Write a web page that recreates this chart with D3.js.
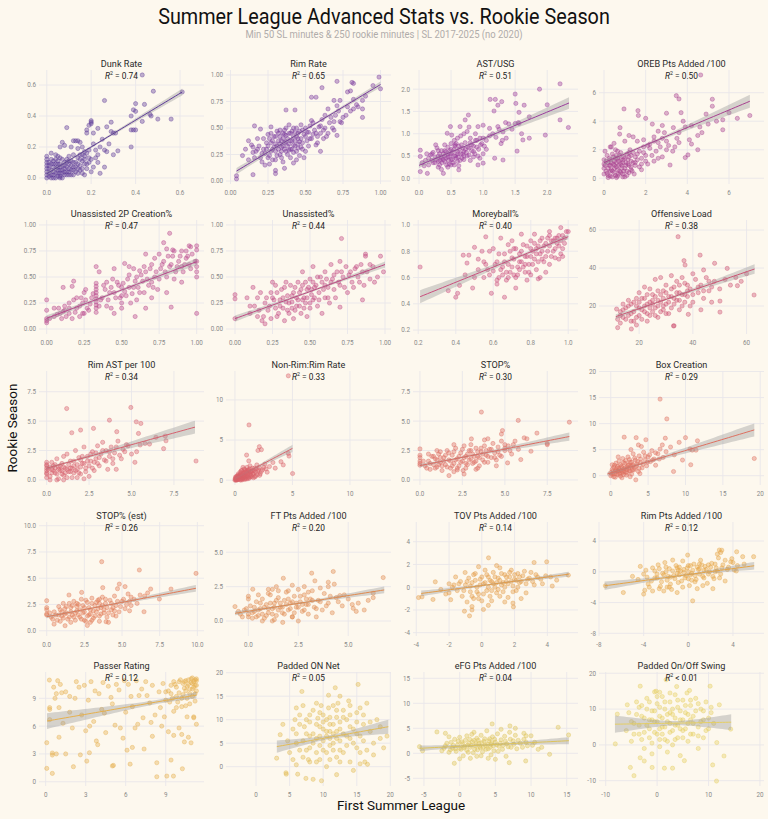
<!DOCTYPE html>
<html>
<head>
<meta charset="utf-8">
<script src="https://cdn.jsdelivr.net/npm/d3@7"></script>
<style>
  body { margin: 0; background: #fdf8ee; }
  svg text { font-family: Roboto, "Noto Sans", sans-serif; }
</style>
</head>
<body>
<svg id="chart" width="768" height="819"></svg>
<script>
// ---- data ----
const titles = ["Dunk Rate", "Rim Rate", "AST/USG", "OREB Pts Added /100",
  "Unassisted 2P Creation%", "Unassisted%", "Moreyball%", "Offensive Load",
  "Rim AST per 100", "Non-Rim:Rim Rate", "STOP%", "Box Creation",
  "STOP% (est)", "FT Pts Added /100", "TOV Pts Added /100", "Rim Pts Added /100",
  "Passer Rating", "Padded ON Net", "eFG Pts Added /100", "Padded On/Off Swing"];

const r2Labels = ["= 0.74", "= 0.65", "= 0.51", "= 0.50", "= 0.47", "= 0.44", "= 0.40", "= 0.38",
  "= 0.34", "= 0.33", "= 0.30", "= 0.29", "= 0.26", "= 0.20", "= 0.14", "= 0.12",
  "= 0.12", "= 0.05", "= 0.04", "< 0.01"];

const panelColors = ["#5e3c99", "#7a3a9e", "#9a3d9c", "#a8408f", "#b8468c", "#c04882", "#c94e7d", "#cc5372",
  "#d6606d", "#d9626a", "#dc6c62", "#de7060", "#e07a56", "#df8a4f", "#e39c48", "#e5a446",
  "#e6b04d", "#e2bc56", "#ddc35a", "#e6cf62"];

const xDomains = [[-0.035, 0.708], [-0.03, 1.07], [-0.094, 2.48], [-0.24, 7.68],
  [-0.051, 1.049], [-0.06, 1.04], [0.172, 1.052], [5.05, 66.5],
  [-0.45, 9.27], [-0.78, 13.57], [-0.41, 9.31], [-1.57, 20.5],
  [-0.51, 10.44], [-1.12, 7.14], [-4.2, 5.87], [-8.0, 6.78],
  [-0.5, 11.87], [-4.47, 20.1], [-6.54, 16.58], [-11.3, 20.78]];
const yDomains = [[-0.039, 0.697], [-0.028, 1.047], [-0.128, 2.43], [-0.4, 7.59],
  [-0.048, 1.048], [-0.048, 1.048], [0.17, 1.038], [5.26, 65.3],
  [-0.43, 9.26], [-0.6, 13.6], [-0.43, 9.26], [-1.79, 20.1],
  [-0.5, 10.35], [-1.09, 7.2], [-4.29, 5.73], [-8.35, 6.47],
  [-0.46, 11.84], [-4.12, 20.15], [-6.54, 16.26], [-11.48, 20.36]];

const xTicks = [[0, 0.2, 0.4, 0.6], [0, 0.25, 0.5, 0.75, 1], [0, 0.5, 1, 1.5, 2], [0, 2, 4, 6],
  [0, 0.25, 0.5, 0.75, 1], [0, 0.25, 0.5, 0.75, 1], [0.2, 0.4, 0.6, 0.8, 1], [20, 40, 60],
  [0, 2.5, 5, 7.5], [0, 5, 10], [0, 2.5, 5, 7.5], [0, 5, 10, 15, 20],
  [0, 2.5, 5, 7.5, 10], [0, 2.5, 5], [-4, -2, 0, 2, 4], [-8, -4, 0, 4],
  [0, 3, 6, 9], [0, 5, 10, 15, 20], [-5, 0, 5, 10, 15], [-10, 0, 10, 20]];
const yTicks = [[0, 0.2, 0.4, 0.6], [0, 0.25, 0.5, 0.75, 1], [0, 0.5, 1, 1.5, 2], [0, 2, 4, 6],
  [0, 0.25, 0.5, 0.75, 1], [0, 0.25, 0.5, 0.75, 1], [0.2, 0.4, 0.6, 0.8, 1], [20, 40, 60],
  [0, 2.5, 5, 7.5], [0, 5, 10], [0, 2.5, 5, 7.5], [0, 5, 10, 15, 20],
  [0, 2.5, 5, 7.5, 10], [0, 2.5, 5], [-4, -2, 0, 2, 4], [-8, -4, 0, 4],
  [0, 3, 6, 9], [0, 5, 10, 15, 20], [-5, 0, 5, 10, 15], [-10, 0, 10, 20]];
const tickDigits = [1, 2, 1, 0, 2, 2, 1, 0, 1, 0, 1, 0, 1, 1, 0, 0, 0, 0, 0, 0];

// fitted line ends [x0, y0, x1, y1] and band half widths [start, end, narrowest]
const fitEnds = [[0, 0.027, 0.61, 0.555], [0.04, 0.094, 1.0, 0.91], [0, 0.29, 2.34, 1.69], [0, 1.1, 7.0, 5.4],
  [0, 0.103, 1.0, 0.647], [0, 0.1, 1.0, 0.62], [0.21, 0.454, 1.0, 0.911], [11.3, 14.4, 63, 39.5],
  [0, 1.0, 8.74, 4.49], [0, 0.2, 5.0, 3.96], [0, 1.22, 8.8, 3.69], [-0.45, 0.33, 19.2, 8.79],
  [0, 1.33, 9.9, 4.04], [-0.67, 0.56, 6.8, 2.26], [-3.7, -0.55, 5.3, 1.14], [-7.5, -1.82, 5.9, 0.78],
  [0.1, 6.55, 11.3, 9.35], [3.1, 4.27, 19.7, 8.5], [-5.6, 1.0, 15.3, 2.52], [-8.2, 5.78, 14.4, 6.34]];
const bandHalf = [[0.012, 0.022, 0.006], [0.03, 0.028, 0.01], [0.06, 0.13, 0.025], [0.2, 0.45, 0.08],
  [0.03, 0.035, 0.012], [0.03, 0.03, 0.01], [0.05, 0.02, 0.01], [1.3, 2.5, 0.5],
  [0.12, 0.55, 0.08], [0.1, 0.45, 0.08], [0.15, 0.35, 0.07], [0.35, 1.25, 0.2],
  [0.15, 0.32, 0.07], [0.15, 0.25, 0.06], [0.25, 0.22, 0.07], [0.55, 0.5, 0.12],
  [0.85, 0.35, 0.22], [1.3, 1.5, 0.4], [0.55, 0.7, 0.18], [2.4, 2.2, 0.6]];

// points: flat x,y lists per panel
const dunkRate = [0.43,0.665,0.48,0.56,0.61,0.555,0.26,0.50,0.40,0.48,0.44,0.475,0.39,0.44,0.40,0.43,0.47,0.40,0.465,0.41,
  0.38,0.40,0.50,0.38,0.56,0.38,0.43,0.365,0.20,0.37,0.20,0.36,0.20,0.35,0.19,0.34,0.29,0.36,0.27,0.33,0.23,0.32,
  0.18,0.31,0.18,0.29,0.21,0.29,0.09,0.325,0.29,0.30,0.30,0.29,0.31,0.29,0.38,0.31,0.39,0.31,0.40,0.31,0.38,0.20,
  0.32,0.175,0.30,0.15,0.14,0.24,0.13,0.24,0.12,0.24,0.15,0.23,0.07,0.23,0.08,0.21,0.06,0.20,0.11,0.20,0.14,0.19,
  0.16,0.20,0.17,0.17,0.21,0.22,0.25,0.25,0.18,0.16,0.15,0.15,0.19,0.13,0.22,0.13,0.17,0.12,0.27,0.17,0.26,0.18,
  0.02,0.16,0.04,0.15,0.05,0.14,0.06,0.13,0.07,0.12,0,0,0,0.02,0,0.04,0,0.06,0,0.08,0,0.10,0,0.12,0.01,0.01,0.01,0.03,
  0.02,0.05,0.02,0,0.03,0.02,0.03,0.07,0.04,0.03,0.04,0.09,0.05,0.01,0.05,0.05,0.06,0.03,0.06,0.07,0.07,0,0.07,0.05,
  0.08,0.02,0.08,0.08,0.09,0.04,0.09,0.10,0.10,0.06,0.10,0.02,0.11,0.08,0.12,0.05,0.12,0.10,0.13,0.07,0.14,0.03,
  0.03,0.11,0.05,0.09,0.01,0.06,0.02,0.09,0.04,0,0.06,0.01,0.08,0.06,0.10,0.11,0.14,0.09,0.15,0.05,0.16,0.03,
  0.17,0.02,0.18,0.06,0.20,0.04,0.21,0.07,0.24,0.03,0.26,0.07,0.23,0.10,0.17,0.09,0.16,0.11,0.19,0.10,
  0.01,0.08,0.02,0.02,0.02,0.12,0.03,0.04,0.03,0.09,0.04,0.06,0.04,0.12,0.05,0.03,0.05,0.07,0.05,0.11,0.06,0.05,
  0.06,0.09,0.07,0.03,0.07,0.08,0.08,0.04,0.08,0.10,0.09,0.02,0.09,0.07,0.10,0.04,0.10,0.09,0.11,0.05,0.11,0.11,
  0.12,0.02,0.12,0.07,0.13,0.04,0.13,0.10,0.14,0.06,0.15,0.08,0.15,0.12,0.16,0.06,0.17,0.14,0.18,0.09,0.19,0.18,
  0.20,0.12,0.22,0.18,0.23,0.15,0.24,0.20,0.28,0.22,0.12,0.15,0.10,0.14,0.00,0.14,0.01,0.10,0.03,0.00,0.06,0.00,
  0.09,0.12,0.11,0.02,0.14,0.13,0.16,0.15];
const rimRate = [0.99,0.98,1.0,0.87,0.82,0.92,0.81,0.93,0.71,0.94,0.78,0.84,0.80,0.85,0.82,0.77,0.88,0.76,0.88,0.68,
  0.88,0.60,0.71,0.71,0.82,0.68,0.69,0.76,0.73,0.76,0.54,0.79,0.57,0.79,0.61,0.88,0.43,0.67,0.37,0.67,0.71,0.43,
  0.69,0.56,0.73,0.56,0.60,0.28,0.53,0.40,0.57,0.34,0.45,0.31,0.42,0.17,0.30,0.07,0.30,0.10,0.15,0.06,0.04,0.02,
  0.04,0.05,0.15,0.27,0.15,0.32,0.16,0.52,0.20,0.49,0.27,0.51,0.36,0.44,0.39,0.53,0.47,0.53,0.54,0.57,0.59,0.51,
  0.63,0.62,0.65,0.68,0.62,0.40,0.22,0.30,0.25,0.33,0.27,0.28,0.28,0.38,0.30,0.35,0.30,0.42,0.32,0.30,0.32,0.45,
  0.33,0.25,0.34,0.38,0.35,0.33,0.36,0.48,0.37,0.28,0.38,0.40,0.39,0.35,0.40,0.45,0.41,0.30,0.42,0.50,0.43,0.38,
  0.44,0.42,0.45,0.35,0.46,0.47,0.47,0.40,0.48,0.30,0.49,0.44,0.50,0.50,0.51,0.38,0.52,0.46,0.53,0.52,0.55,0.44,
  0.56,0.48,0.58,0.42,0.60,0.52,0.62,0.48,0.25,0.22,0.26,0.40,0.28,0.20,0.29,0.32,0.31,0.24,0.33,0.48,0.35,0.18,
  0.36,0.36,0.38,0.25,0.40,0.22,0.41,0.38,0.44,0.28,0.46,0.24,0.48,0.36,0.50,0.28,0.23,0.26,0.24,0.36,0.20,0.22,
  0.21,0.18,0.19,0.33,0.27,0.45,0.34,0.28,0.37,0.43,0.39,0.29,0.42,0.34,0.43,0.46,0.45,0.40,0.66,0.55,0.68,0.50,
  0.70,0.62,0.75,0.60,0.65,0.45,0.72,0.66,0.78,0.70,0.84,0.72,0.90,0.80,0.95,0.90,0.08,0.24,0.10,0.30,0.12,0.38,
  0.14,0.34,0.17,0.28,0.18,0.40,
  0.21,0.26,0.22,0.40,0.23,0.15,0.24,0.30,0.25,0.44,0.26,0.24,0.27,0.36,0.28,0.30,0.29,0.42,0.30,0.20,0.30,0.28,
  0.31,0.33,0.31,0.47,0.32,0.38,0.33,0.35,0.33,0.42,0.34,0.22,0.34,0.32,0.35,0.40,0.35,0.45,0.36,0.30,0.37,0.37,
  0.37,0.50,0.38,0.33,0.39,0.45,0.40,0.30,0.40,0.38,0.41,0.47,0.42,0.27,0.42,0.42,0.43,0.33,0.44,0.50,0.45,0.45,
  0.46,0.37,0.47,0.32,0.48,0.48,0.50,0.42,0.51,0.46,0.52,0.33,0.54,0.40,0.55,0.55,0.57,0.45,0.58,0.36,0.60,0.45,
  0.61,0.58,0.63,0.50,0.64,0.42,0.67,0.60,0.69,0.48,0.74,0.55,0.77,0.62,0.80,0.66,0.85,0.70,0.12,0.20,0.16,0.22,
  0.18,0.30,0.26,0.16,0.36,0.12,0.44,0.20,0.49,0.22];
const astUsg = [2.2,2.12,1.88,2.0,2.0,1.65,2.2,1.31,2.33,1.14,1.50,1.89,1.11,1.77,1.19,1.77,1.29,1.72,1.17,1.51,
  1.23,1.64,1.51,1.68,1.56,1.48,1.64,1.64,1.56,1.23,1.50,1.23,1.72,1.38,1.97,0.97,1.72,0.90,1.62,0.86,1.53,0.61,
  1.31,0.41,1.18,0.45,1.28,0.78,1.36,0.90,1.31,1.04,1.23,1.16,1.10,1.12,1.0,1.19,0.92,1.16,0.77,1.42,0.72,1.31,
  0.49,1.16,0.64,1.16,0.44,1.01,0.51,0.97,0.56,0.75,0.26,0.75,0.18,0.52,0.02,0.63,0.02,0.49,0.02,0.15,0.13,0.11,
  0.38,0.11,0.62,0.19,0.92,0.30,1.0,0.34,0.2,0.4,0.25,0.35,0.3,0.5,0.32,0.3,0.35,0.45,0.38,0.55,0.4,0.38,0.42,0.6,
  0.45,0.48,0.47,0.32,0.5,0.55,0.52,0.42,0.55,0.65,0.57,0.5,0.6,0.38,0.62,0.72,0.65,0.55,0.67,0.45,0.7,0.6,0.72,0.8,
  0.75,0.5,0.78,0.68,0.8,0.4,0.82,0.75,0.85,0.6,0.88,0.85,0.9,0.7,0.92,0.5,0.95,0.9,0.98,0.78,0.3,0.25,0.35,0.62,
  0.4,0.5,0.45,0.7,0.5,0.3,0.55,0.85,0.6,0.6,0.65,0.95,0.7,0.42,0.75,1.05,0.8,0.9,0.85,0.48,0.1,0.4,0.15,0.45,
  0.12,0.55,0.05,0.35,0.08,0.28,0.22,0.58,0.28,0.68,0.33,0.4,0.48,0.62,0.58,0.78,0.68,0.68,1.05,0.85,1.1,0.95,
  1.15,1.0,1.2,0.92,1.25,1.1,1.3,0.85,1.4,1.22,1.45,1.1,1.05,0.65,1.0,0.55,0.95,0.45,1.35,1.25,1.55,1.25,1.6,1.0,
  0.15,0.3,0.2,0.55,0.22,0.35,0.25,0.48,0.27,0.42,0.3,0.38,0.32,0.55,0.34,0.48,0.36,0.35,0.38,0.42,0.4,0.62,0.42,0.45,
  0.43,0.3,0.45,0.55,0.46,0.4,0.48,0.5,0.5,0.42,0.5,0.65,0.52,0.58,0.53,0.35,0.55,0.5,0.56,0.72,0.58,0.45,0.6,0.55,
  0.61,0.48,0.63,0.65,0.64,0.4,0.66,0.75,0.68,0.55,0.7,0.5,0.72,0.65,0.74,0.58,0.76,0.7,0.78,0.52,0.8,0.8,0.82,0.62,
  0.85,0.72,0.87,0.55,0.9,0.85,0.93,0.65,0.96,0.75,1.0,0.9,1.02,0.72,0.35,0.2,0.45,0.25,0.55,0.3,0.62,0.28,0.3,0.62,
  0.4,0.75,0.5,0.78,0.6,0.9,0.7,1.0,0.78,1.15,0.88,1.0];
const orebPts = [3.47,5.79,3.6,5.56,5.2,5.54,5.2,5.05,4.9,4.5,5.7,4.1,6.4,4.2,7.0,4.4,5.7,3.4,3.7,4.6,3.8,4.0,3.0,4.56,
  2.0,4.2,1.63,4.74,1.65,4.4,0.96,4.86,0.77,3.55,0.75,3.1,2.32,3.8,2.8,3.7,3.33,3.55,4.2,3.7,4.5,3.0,4.7,3.2,4.1,2.7,
  3.5,2.8,3.0,2.6,2.6,2.5,2.2,2.4,1.9,2.2,1.6,2.6,1.4,2.9,1.2,3.0,1.0,2.6,0.48,2.45,0.3,2.2,4.03,1.64,3.9,1.45,4.5,2.0,
  3.17,0.93,2.8,1.5,2.4,1.2,2.0,1.6,1.8,1.0,1.5,1.5,1.3,0.6,1.2,1.8,4.64,7.24,0,0.3,0,0.7,0,1.0,0,1.3,0.1,0.5,0.15,1.6,
  0.2,0.2,0.25,0.9,0.3,1.3,0.35,0.6,0.4,1.7,0.4,0.1,0.45,1.0,0.5,0.4,0.55,1.4,0.6,0.8,0.65,0.15,0.7,1.2,0.75,0.5,
  0.8,1.8,0.85,0.9,0.9,0.3,0.95,1.5,1.0,0.7,1.05,1.1,1.1,0.2,1.15,1.3,1.2,0.9,1.3,1.6,1.35,0.5,1.4,1.1,0.2,1.1,0.3,0.5,
  0.5,0.9,0.6,1.6,0.7,0.3,0.8,1.0,0.9,1.3,1.0,0.1,1.1,1.7,1.2,0.4,1.25,2.0,0.55,2.0,0.05,1.9,0.35,2.2,0.65,1.9,1.5,0.9,
  1.6,1.3,1.7,1.9,1.8,0.6,2.1,1.0,2.2,2.1,2.5,1.9,2.7,2.2,3.0,2.0,2.9,3.2,3.4,2.2,3.6,3.2,3.9,3.6,4.2,2.4,4.6,3.6,
  5.0,3.8,5.4,4.0,6.0,4.6,1.9,2.7,2.4,2.9,2.6,3.3,0.2,0.05,
  0.05,0.9,0.1,1.2,0.15,0.35,0.2,0.7,0.25,1.4,0.3,0.9,0.3,0.15,0.35,1.1,0.4,0.5,0.45,1.5,0.5,0.7,0.5,1.2,0.55,0.2,
  0.6,1.1,0.65,0.6,0.65,1.4,0.7,0.9,0.75,1.6,0.8,0.4,0.8,1.3,0.85,0.7,0.9,1.1,0.95,0.5,1.0,1.4,1.05,0.9,1.1,0.5,
  1.15,1.0,1.2,1.5,1.3,0.8,1.3,1.2,1.4,1.8,1.45,0.3,1.5,1.1,1.6,1.7,1.7,0.8,1.8,1.4,1.9,1.8,2.0,1.2,2.1,2.3,2.3,1.6,
  2.4,2.6,2.6,1.4,2.8,2.8,3.1,2.3,3.3,1.9,3.6,2.5,0.6,0.05,0.9,0.1];
const unassisted2p = [0,0.28,0,0.18,0,0.10,0,0.08,0,0.06,0.02,0.10,0.09,0.15,0.11,0.17,0.13,0.12,0.11,0.40,0.17,0.41,
  0.18,0.46,0.23,0.30,0.25,0.35,0.33,0.44,0.33,0.41,0.33,0.38,0.33,0.35,0.33,0.32,0.33,0.29,0.33,0.26,0.33,0.23,
  0.33,0.20,0.33,0.16,0.5,0.4,0.5,0.32,0.5,0.25,0.5,0.2,1.0,0.8,1.0,0.76,1.0,0.65,1.0,0.6,1.0,0.55,1.0,0.5,1.0,0.15,
  0.82,0.92,0.78,0.83,0.8,0.77,0.95,0.8,0.96,0.79,0.93,0.75,0.9,0.75,0.84,0.76,0.83,0.21,0.59,0.12,0.7,0.3,0.66,0.72,
  0.72,0.68,0.33,0.6,0.35,0.55,0.52,0.63,0.55,0.6,0.58,0.58,0.62,0.56,0.45,0.58,0.05,0.12,0.08,0.2,0.12,0.22,0.15,0.15,
  0.18,0.28,0.2,0.2,0.22,0.12,0.24,0.25,0.26,0.38,0.28,0.18,0.3,0.3,0.36,0.28,0.38,0.42,0.4,0.22,0.42,0.35,0.44,0.48,
  0.46,0.3,0.48,0.42,0.52,0.36,0.54,0.48,0.56,0.25,0.58,0.4,0.6,0.5,0.62,0.35,0.64,0.46,0.66,0.55,0.68,0.42,0.7,0.62,
  0.72,0.5,0.74,0.38,0.76,0.58,0.78,0.65,0.8,0.5,0.82,0.6,0.84,0.7,0.86,0.55,0.88,0.65,0.9,0.45,0.92,0.62,0.94,0.7,
  0.96,0.58,0.75,0.72,0.7,0.45,0.6,0.28,0.4,0.45,0.25,0.15,0.15,0.25,0.43,0.2,0.55,0.4,0.65,0.6,0.85,0.48,0.9,0.6,
  0.05,0.2,0.07,0.14,0.1,0.1,0.12,0.18,0.15,0.2,0.17,0.1,0.19,0.16,0.2,0.3,0.22,0.22,0.24,0.15,0.26,0.28,0.27,0.2,
  0.29,0.24,0.31,0.34,0.35,0.22,0.37,0.3,0.39,0.38,0.41,0.28,0.43,0.4,0.45,0.35,0.47,0.45,0.49,0.3,0.51,0.44,0.53,0.32,
  0.55,0.52,0.57,0.34,0.59,0.46,0.61,0.4,0.63,0.52,0.65,0.35,0.67,0.48,0.69,0.58,0.71,0.4,0.73,0.55,0.75,0.48,0.77,0.62,
  0.79,0.55,0.81,0.7,0.83,0.62,0.85,0.75,0.87,0.6,0.89,0.7,0.91,0.55,0.93,0.68,0.95,0.62,0.97,0.72,0.99,0.65,0.66,0.2,
  0.45,0.15,0.8,0.35];
const unassisted = [0,0.33,0,0.29,0,0.10,0.71,0.87,0.87,0.72,0.87,0.70,0.97,0.70,0.99,0.55,0.7,0.21,0.85,0.28,
  0.12,0.4,0.15,0.3,0.15,0.12,0.18,0.08,0.2,0.05,0.2,0.25,0.22,0.18,0.24,0.35,0.25,0.45,0.26,0.28,0.28,0.12,0.3,0.22,
  0.31,0.38,0.32,0.3,0.34,0.45,0.35,0.18,0.36,0.25,0.38,0.32,0.39,0.1,0.4,0.4,0.41,0.22,0.42,0.28,0.43,0.35,0.44,0.15,
  0.45,0.42,0.46,0.3,0.47,0.25,0.48,0.38,0.5,0.2,0.5,0.48,0.51,0.33,0.52,0.28,0.53,0.4,0.55,0.22,0.55,0.5,0.56,0.35,
  0.58,0.45,0.6,0.3,0.6,0.55,0.62,0.4,0.63,0.25,0.64,0.62,0.65,0.48,0.66,0.38,0.68,0.55,0.7,0.42,0.72,0.5,0.74,0.6,
  0.75,0.35,0.76,0.52,0.78,0.45,0.8,0.58,0.82,0.5,0.84,0.62,0.86,0.42,0.88,0.55,0.9,0.48,0.92,0.6,0.95,0.5,0.7,0.65,
  0.52,0.6,0.45,0.55,0.27,0.42,0.33,0.08,0.38,0.2,0.58,0.15,0.48,0.12,0.08,0.3,0.1,0.22,
  0.1,0.15,0.13,0.22,0.16,0.18,0.17,0.35,0.19,0.12,0.21,0.3,0.23,0.22,0.24,0.1,0.25,0.3,0.27,0.2,0.28,0.35,0.29,0.15,
  0.3,0.28,0.32,0.2,0.33,0.4,0.34,0.26,0.35,0.32,0.36,0.15,0.37,0.42,0.38,0.26,0.39,0.35,0.4,0.18,0.41,0.3,0.42,0.45,
  0.43,0.22,0.44,0.38,0.45,0.28,0.46,0.2,0.47,0.45,0.48,0.3,0.49,0.4,0.5,0.25,0.51,0.38,0.52,0.45,0.53,0.3,0.54,0.42,
  0.56,0.28,0.57,0.5,0.59,0.38,0.6,0.42,0.61,0.48,0.62,0.3,0.64,0.45,0.66,0.52,0.67,0.3,0.69,0.45,0.71,0.55,0.73,0.4,
  0.77,0.55,0.79,0.4,0.81,0.6,0.83,0.45,0.85,0.55,0.9,0.62,0.93,0.45];
const moreyball = [0.21,0.68,0.36,0.5,0.41,0.48,0.4,0.45,0.42,0.54,0.44,0.77,0.47,0.77,0.5,0.83,0.46,0.71,0.52,0.66,
  0.49,0.52,0.55,0.6,0.54,0.8,0.56,0.91,0.58,0.8,0.59,0.48,0.66,0.45,0.62,0.55,0.6,0.65,0.62,0.72,0.63,0.6,0.65,0.68,
  0.66,0.78,0.67,0.58,0.68,0.7,0.69,0.64,0.7,0.75,0.71,0.82,0.72,0.6,0.73,0.68,0.74,0.78,0.75,0.72,0.76,0.85,0.77,0.64,
  0.78,0.76,0.79,0.7,0.8,0.88,0.81,0.8,0.82,0.74,0.83,0.66,0.84,0.84,0.85,0.78,0.86,0.9,0.87,0.72,0.88,0.86,0.89,0.8,
  0.9,0.92,0.91,0.76,0.92,0.88,0.93,0.82,0.94,0.9,0.95,0.84,0.96,0.78,0.97,0.92,0.98,0.86,0.99,0.95,1.0,0.95,0.97,0.82,
  0.7,0.88,0.75,0.93,0.78,0.58,0.8,0.62,0.85,0.6,0.9,0.7,0.95,0.74,0.88,0.64,0.82,0.93,0.72,0.52,0.68,0.85,0.64,0.9,
  0.6,0.82,0.58,0.62,0.56,0.7,0.52,0.74,0.96,0.98,0.84,0.59,
  0.61,0.7,0.63,0.78,0.64,0.66,0.66,0.72,0.67,0.64,0.69,0.8,0.7,0.68,0.71,0.74,0.72,0.82,0.73,0.62,0.74,0.72,0.75,0.8,
  0.76,0.68,0.77,0.76,0.78,0.84,0.79,0.64,0.8,0.76,0.81,0.7,0.82,0.86,0.83,0.78,0.84,0.72,0.85,0.88,0.86,0.8,0.87,0.84,
  0.88,0.76,0.89,0.9,0.9,0.84,0.91,0.88,0.92,0.8,0.93,0.9,0.94,0.86,0.95,0.92,0.96,0.88,0.97,0.76,0.98,0.9,0.86,0.74,
  0.83,0.82,0.8,0.82,0.77,0.7,0.74,0.66,0.71,0.62,0.68,0.6,0.65,0.62,0.62,0.58,0.55,0.72,0.5,0.6,0.57,0.66,0.45,0.62,
  0.93,0.75,0.9,0.95];
const offensiveLoad = [11.6,18.4,12,8.6,17.1,7.9,32.8,9.5,34.5,56.5,42.7,46.8,36.7,43.9,37.1,41.6,48.1,42.5,52.8,39.8,
  56.6,30.7,62.8,25.8,50.1,22.6,50.1,16.8,38.3,15.6,33,9.6,13,15,14,18,15,13,16,20,17,16,18,22,19,14,20,19,21,24,
  22,17,23,21,24,15,25,26,26,19,27,23,28,17,29,28,30,21,31,25,32,19,33,30,34,23,35,27,36,20,37,32,38,25,39,29,40,22,
  41,34,42,27,43,31,44,24,45,35,46,28,47,30,48,33,50,29,52,34,54,31,56,35,58,33,60,37,20,27,22,30,24,29,26,34,28,35,
  30,31,32,36,34,33,36,35,38,31,40,37,44,39,18,12,23,12,27,14,31,16,35,18,39,20,43,18,47,22,25,21,29,20,33,24,37,26,
  12,13,13,17,14,14,15,19,16,15,17,21,17,12,18,17,19,20,19,24,20,15,20,22,21,18,21,13,22,24,22,20,23,16,23,26,
  24,22,24,19,25,17,25,23,26,25,26,15,27,20,27,28,28,22,28,26,29,18,29,24,30,27,30,16,31,22,32,29,32,25,33,21,
  34,27,35,23,35,31,36,26,37,22,38,28,40,26,42,30,44,28,46,33,16,23,14,21,13,11,19,10];
const rimAst = [1.18,6.07,4.96,6.16,3.7,5.08,5.28,4.94,5.55,4.8,1.48,4.01,2.0,4.24,2.76,4.38,4.13,4.1,5.41,3.95,
  6.06,3.05,6.44,3.62,6.99,3.73,7.03,3.33,6.89,2.66,8.8,1.61,5.51,2.97,4.1,0.9,0,0.2,0,0.5,0,0.8,0,1.0,0,1.3,0,1.5,
  0.2,0.3,0.3,0.9,0.4,1.2,0.5,0.6,0.6,1.8,0.7,0.1,0.8,0.8,0.9,1.4,1.0,0.4,1.1,1.0,1.2,2.2,1.3,0.7,1.4,1.6,1.5,0.2,
  1.6,1.2,1.7,2.5,1.8,0.9,1.9,1.9,2.0,0.5,2.1,1.4,2.2,2.8,2.3,1.0,2.4,2.0,2.5,0.3,2.6,1.6,2.7,2.4,2.8,0.8,2.9,1.8,
  3.0,2.9,3.1,1.2,3.2,2.2,3.3,3.2,3.4,1.7,3.5,2.5,3.6,0.9,3.7,2.0,3.8,2.8,3.9,1.4,4.0,2.3,4.2,3.3,4.4,1.8,4.5,2.6,
  4.7,3.0,5.0,2.2,5.2,1.5,0.5,1.3,0.9,0.5,1.2,0.2,1.6,0.6,2.2,0.1,0.3,1.5,1.0,2.0,0.7,1.1,1.4,1.0,2.0,1.7,
  0,0.6,0,1.2,0.1,0.9,0.2,1.1,0.3,0.6,0.4,0.8,0.5,1.0,0.6,0.5,0.7,0.9,0.8,1.2,0.9,0.8,1.0,1.1,1.1,0.6,1.2,0.9,
  1.3,1.3,1.4,0.7,1.5,1.0,1.6,1.6,1.7,0.8,1.8,1.3,1.9,0.6,2.0,1.1,2.1,2.0,2.2,1.4,2.3,0.7,2.4,1.6,2.5,1.2,2.6,2.2,
  2.7,1.0,2.8,1.5,2.9,2.3,3.0,1.4,3.1,1.9,3.3,2.5,3.5,1.6,3.7,2.4,3.9,1.8,4.1,2.8,4.3,2.1,4.6,2.4,4.8,2.9,5.3,2.4,
  5.8,3.1,0.2,0.0,0.6,0.0,1.0,0.0,1.8,0.2];
const nonRimRim = [1.22,6.88,2.12,4.17,2.3,3.8,2.0,3.7,1.01,3.13,1.2,2.4,3.3,2.2,4.0,2.3,4.64,3.33,4.7,3.0,5.01,0.83,
  4.2,1.9,3.5,1.5,2.7,1.4,4.64,13.0,0,0,0.05,0.1,0.1,0.3,0.15,0.05,0.2,0.5,0.25,0.2,0.3,0.8,0.35,0.1,0.4,0.4,0.45,1.0,
  0.5,0.2,0.55,0.6,0.6,1.2,0.65,0.3,0.7,0.9,0.75,0.5,0.8,1.4,0.85,0.1,0.9,0.7,0.95,1.1,1.0,0.4,1.05,1.6,1.1,0.8,
  1.15,1.3,1.2,0.2,1.25,1.0,1.3,1.8,1.4,0.6,1.5,1.2,1.6,0.9,1.7,1.5,1.8,0.5,1.9,1.9,2.0,1.1,2.1,1.6,2.2,0.8,2.4,1.3,
  2.6,2.0,2.8,1.0,3.0,1.7,0.1,0,0.3,0.3,0.5,0,0.7,0.2,0.2,0.1,0.4,0.7,0.6,0.4,0.8,0.7,1.0,0.9,1.2,1.2,1.4,1.1,0.9,0.2,
  1.1,0.3,0.25,0.6,0.55,0.9,1.6,0.3,0.05,0.4,1.35,0.4,0.7,1.6,
  0.02,0.2,0.08,0.05,0.12,0.15,0.18,0.3,0.22,0.05,0.28,0.4,0.32,0.15,0.38,0.55,0.42,0.25,0.48,0.6,0.52,0.35,0.58,0.15,
  0.62,0.7,0.68,0.45,0.72,0.25,0.78,0.9,0.82,0.5,0.88,0.35,0.92,1.0,0.98,0.6,1.02,0.15,1.08,1.2,1.12,0.55,1.18,0.9,
  1.22,0.35,1.28,1.4,1.32,0.7,1.38,1.0,1.45,0.45,1.52,1.5,1.58,0.75,1.65,1.2,1.72,0.4,1.78,1.0,1.85,1.4,1.95,0.7,
  2.05,1.3,2.15,0.6,2.3,1.1,2.5,1.6,0.35,0.35,0.45,0.1,0.65,0.05,0.15,0.45,0.55,1.2,0.85,1.3];
const stopPct = [0,2.64,0,2.1,0,1.9,0,1.6,0,1.4,0,1.25,3.62,5.77,5.79,5.06,8.8,4.91,6.89,3.98,4.86,4.2,4.8,3.9,3.03,3.49,
  3.8,3.4,6.14,3.58,6.3,3.5,7.5,3.1,7.5,3.0,6.54,2.44,5.94,1.73,5.16,1.45,1.71,0.37,2.6,0.5,2.54,0.8,2.2,0.85,
  0.3,1.2,0.5,1.6,0.6,0.9,0.8,1.3,0.9,1.8,1.0,1.1,1.1,2.2,1.2,1.5,1.3,0.8,1.4,1.9,1.5,1.3,1.6,2.5,1.7,1.7,1.8,1.0,
  1.9,2.1,2.0,1.4,2.1,2.7,2.2,1.8,2.3,1.2,2.4,2.3,2.5,1.6,2.6,2.9,2.7,2.0,2.8,1.3,2.9,2.5,3.0,1.8,3.1,2.2,3.2,1.5,
  3.3,2.7,3.4,2.0,3.5,1.2,3.6,2.4,3.7,1.7,3.8,2.9,3.9,2.1,4.0,1.5,4.1,2.6,4.2,1.9,4.3,3.1,4.4,2.3,4.5,1.7,4.6,2.8,
  4.7,2.1,4.8,3.3,5.0,2.5,5.2,2.9,5.4,2.2,5.6,3.3,5.8,2.6,2.0,0.7,2.7,1.0,3.3,0.9,1.2,2.4,0.7,2.0,3.0,3.0,4.0,3.5,5.0,3.0,
  0.2,1.6,0.4,1.0,0.6,1.4,0.8,2.0,0.9,1.0,1.0,1.7,1.1,1.3,1.2,1.9,1.3,1.2,1.4,1.6,1.5,2.1,1.6,1.1,1.7,2.3,1.8,1.6,
  1.9,1.2,2.0,2.4,2.1,1.7,2.2,1.0,2.3,2.0,2.4,1.5,2.5,2.6,2.6,1.9,2.7,1.4,2.8,2.2,2.9,1.7,3.0,2.5,3.1,1.4,3.2,2.0,
  3.3,1.6,3.4,2.4,3.5,1.9,3.6,2.7,3.7,2.2,3.8,1.5,3.9,2.5,4.0,2.0,4.2,2.6,4.4,1.9,4.6,2.4,4.8,2.0,5.0,2.7,5.3,2.5,
  5.5,3.0,0.5,2.2,1.0,2.5,2.0,3.0,3.4,1.0,4.5,1.2];
const boxCreation = [6.6,14.7,7.5,10.9,19.2,3.3,10.0,7.3,11.6,6.7,10.6,5.1,10.9,4.9,11.4,4.9,10.7,2.1,9.6,3.0,8.4,0.8,
  9.15,6.4,3.4,7.3,4.7,6.9,1.8,7.4,3.7,5.9,6.9,5.9,7.3,7.2,3.35,-0.8,0,0,0,0.6,0.2,1.2,0.3,0.3,0.5,2.0,0.6,0.8,0.8,1.5,
  1.0,0.2,1.1,2.8,1.2,1.0,1.4,1.8,1.5,0.5,1.6,3.3,1.8,1.3,1.9,2.4,2.0,0.7,2.2,1.7,2.3,3.6,2.5,1.0,2.6,2.6,2.8,0.3,
  2.9,1.9,3.0,4.2,3.2,1.4,3.3,3.0,3.5,2.2,3.7,0.8,3.8,3.8,4.0,2.5,4.2,1.5,4.4,4.5,4.6,3.0,4.8,1.9,5.0,3.6,5.3,2.7,
  5.5,4.8,5.8,3.2,6.0,2.0,6.3,4.2,6.6,5.1,7.0,3.5,7.4,4.6,8.0,5.5,8.5,4.0,0.4,-0.2,1.3,-0.1,2.1,0.1,0.9,0.9,1.7,0.2,
  2.4,2.1,3.1,1.1,0.7,2.4,1.0,3.6,2.7,5.0,4.1,5.6,
  0.1,0.3,0.3,0.9,0.4,1.6,0.5,0.4,0.7,1.1,0.8,0.3,0.9,1.8,1.0,0.9,1.1,1.4,1.2,0.4,1.3,2.1,1.4,1.0,1.5,1.6,1.6,0.7,
  1.7,2.5,1.8,0.9,1.9,1.5,2.0,2.9,2.1,1.2,2.2,0.5,2.3,2.0,2.4,1.4,2.5,3.1,2.6,0.9,2.7,1.8,2.8,2.6,2.9,1.1,3.0,2.1,
  3.2,3.4,3.4,1.8,3.6,2.7,3.8,1.4,4.0,3.2,4.3,2.2,4.6,3.8,4.9,2.6,5.2,4.0,5.6,3.0,6.0,4.4,6.5,3.2,0.6,-0.3,1.5,-0.4,
  2.6,-0.2,3.9,0.4,0.2,2.1];
const stopEst = [3.65,6.57,6.15,5.78,9.91,5.46,8.25,3.97,7.48,3.02,6.9,3.97,6.7,3.6,6.5,3.3,4.82,4.44,4.7,4.0,5.2,4.2,
  3.72,4.1,2.32,3.65,1.48,3.4,6.46,1.81,5.5,1.9,3.94,0.86,4.1,0.8,3.5,0.9,0,2.86,0,2.2,0,2.0,0,1.6,0,1.5,0.49,0.63,
  1.22,0.48,2.7,0.5,0.3,1.3,0.5,1.8,0.7,1.0,0.9,2.0,1.0,1.4,1.1,2.6,1.3,1.7,1.4,1.1,1.6,2.2,1.7,1.5,1.8,2.8,1.9,1.0,
  2.0,1.9,2.1,2.5,2.2,1.3,2.3,3.0,2.4,1.7,2.5,2.2,2.6,0.9,2.7,2.7,2.8,1.5,2.9,2.0,3.0,3.1,3.1,1.2,3.2,2.4,3.3,1.8,
  3.4,2.9,3.5,1.4,3.6,2.2,3.7,3.2,3.8,1.7,3.9,2.6,4.0,1.3,4.2,2.9,4.3,2.0,4.4,1.5,4.5,3.3,4.6,2.4,4.8,1.8,5.0,2.8,
  5.2,2.1,5.4,3.5,5.6,2.4,5.8,3.0,6.0,2.6,6.2,3.4,0.8,1.5,1.5,2.6,2.5,1.0,3.0,1.0,1.2,2.1,2.0,2.3,3.5,2.6,4.4,2.2,5.5,2.8,
  0.2,1.7,0.4,1.1,0.6,1.5,0.8,2.3,1.0,1.8,1.1,1.2,1.2,1.6,1.3,2.3,1.5,1.3,1.6,1.8,1.7,2.4,1.8,1.3,1.9,1.7,2.0,2.6,
  2.1,1.5,2.2,2.0,2.3,1.1,2.4,2.4,2.5,1.8,2.6,2.9,2.7,1.4,2.8,2.2,2.9,1.6,3.0,2.6,3.1,1.9,3.2,1.4,3.3,2.7,3.4,2.1,
  3.5,3.0,3.6,1.6,3.7,2.4,3.8,2.0,3.9,3.0,4.0,2.2,4.1,1.7,4.3,2.6,4.5,1.9,4.7,2.8,4.9,2.3,5.1,3.0,5.3,2.5,5.6,3.2,
  0.9,0.9,1.6,0.8,2.9,0.8,4.6,1.4];
const ftPts = [1.75,3.11,3.17,3.48,4.25,3.6,3.33,2.92,4.0,2.82,4.0,2.5,4.3,2.68,4.58,1.85,6.75,3.16,6.25,2.02,6.25,1.7,
  5.25,0.92,5.4,0.7,-0.67,1.05,0.22,2.31,0,1.8,1.0,2.3,1.5,2.2,1.72,-0.1,1.3,0.1,2.2,0.3,-0.5,0.7,-0.3,0.3,-0.2,0.8,
  0,0.5,0.1,1.1,0.2,0.2,0.3,0.7,0.4,1.4,0.5,0.4,0.6,0.9,0.7,1.6,0.8,0.2,0.9,1.2,1.0,0.6,1.1,1.9,1.2,0.9,1.3,1.3,
  1.4,0.4,1.5,1.7,1.6,1.0,1.7,0.6,1.8,1.5,1.9,2.1,2.0,0.8,2.1,1.3,2.2,0.3,2.3,1.8,2.4,1.0,2.5,2.3,2.6,1.4,2.7,0.7,
  2.8,1.9,2.9,1.2,3.0,0.5,3.1,1.6,3.2,2.2,3.3,1.0,3.5,1.5,3.7,0.8,3.8,2.0,4.0,1.3,4.2,0.6,4.4,1.7,4.7,1.1,5.0,1.6,
  5.5,1.3,5.8,0.8,6.0,1.5,0,1.6,0.5,1.9,1.0,2.0,1.4,2.5,2.2,2.6,2.8,2.5,0.7,0,1.2,0,2.5,0,3.4,0.3,
  -0.4,0.5,-0.1,0.9,0.0,0.3,0.2,0.6,0.3,1.0,0.4,0.3,0.5,0.8,0.6,1.3,0.7,0.5,0.8,1.0,0.9,0.4,1.0,0.9,1.1,1.3,1.2,0.5,
  1.3,1.0,1.4,1.5,1.5,0.8,1.6,1.3,1.7,1.0,1.8,0.5,1.9,1.2,2.0,1.6,2.1,0.9,2.2,1.4,2.3,0.6,2.4,1.3,2.5,1.0,2.6,1.8,
  2.7,1.2,2.8,0.8,2.9,1.6,3.0,1.2,3.2,1.5,3.4,0.9,3.6,1.4,3.9,1.1,4.1,1.8,4.5,1.4,4.8,1.9,5.2,1.2,1.2,2.3,2.0,2.2,
  3.0,2.1,3.6,2.4];
const tovPts = [-3.86,-0.91,-3.65,-0.85,-2.98,-1.08,-2.84,0.47,0.41,2.58,3.96,2.23,3.19,2.17,5.28,1.06,4.57,0.62,4.3,0.1,
  3.7,0.3,-1.06,-2.11,-0.75,-2.52,-0.6,-2.0,0.1,-1.96,1.93,-1.73,1.9,-1.4,-1.9,-1.1,-2.0,0.3,-1.02,1.29,-0.5,1.1,
  -1.5,-0.3,-1.3,0.5,-1.2,-0.8,-1.0,0.2,-0.9,-1.3,-0.8,0.8,-0.7,-0.4,-0.6,0.4,-0.5,-1.0,-0.4,1.2,-0.3,0,-0.2,-0.6,
  -0.1,0.7,0,-1.2,0.1,0.3,0.2,1.5,0.3,-0.3,0.4,0.9,0.5,-0.8,0.6,0.5,0.7,1.3,0.8,0,0.9,-0.5,1.0,0.8,1.1,1.7,1.2,0.2,
  1.3,-0.4,1.4,1.1,1.5,0.5,1.6,-0.9,1.7,0.9,1.8,1.5,1.9,0.1,2.0,0.7,2.1,-0.3,2.2,1.2,2.3,0.4,2.5,1.0,2.7,-0.5,2.8,0.7,
  3.0,1.3,3.2,0.2,3.4,0.9,-2.5,-0.2,-2.2,-0.6,-1.8,0,-1.6,0.9,-0.2,1.8,0.9,1.9,1.4,-1.3,0.4,-1.6,-0.6,-1.7,2.4,-1.0,
  -1.4,0.3,-1.1,-0.3,-0.9,0.5,-0.7,0.1,-0.6,-0.8,-0.4,0.6,-0.3,-0.4,-0.1,0.2,0.0,0.9,0.1,-0.6,0.2,0.4,0.3,1.1,
  0.4,0.0,0.5,0.6,0.6,-0.3,0.7,0.3,0.8,0.9,0.9,0.4,1.0,-0.2,1.1,0.6,1.2,1.2,1.3,0.4,1.4,0.0,1.5,0.9,1.6,0.3,1.7,1.3,
  1.8,0.5,1.9,-0.4,2.0,1.1,2.1,0.6,2.2,0.0,2.3,0.9,2.4,0.5,2.6,1.4,2.7,0.3,2.9,0.8,3.1,0.5,3.3,1.1,3.6,0.7,3.9,1.0,
  4.2,0.9,-2.0,-0.5,-1.7,0.2,-0.2,-1.0,0.6,-1.2,1.1,-0.8];
const rimPts = [-7.43,-1.83,-5.82,-2.7,-4.0,-2.9,0.39,-3.78,-3.9,-2.4,-3.2,-2.5,-3.5,-2.0,-1.0,-2.7,-1.7,-2.0,2.2,-2.2,
  -1.4,1.52,-0.06,2.17,1.0,1.0,2.6,2.3,2.78,2.83,3.0,2.8,2.9,2.5,4.33,2.6,4.87,1.96,5.85,1.96,4.12,0.22,4.3,0.1,5.0,1.0,
  3.9,1.7,-4.5,-1.0,-4.0,-0.3,-3.6,-1.6,-3.2,0.5,-3.0,-0.8,-2.7,0.9,-2.5,-1.9,-2.3,-0.2,-2.1,1.2,-1.9,-1.1,-1.7,0.4,
  -1.5,-2.3,-1.3,-0.5,-1.1,0.8,-0.9,-1.4,-0.7,0.1,-0.5,1.4,-0.3,-0.8,-0.1,0.5,0.1,-1.8,0.3,-0.2,0.5,1.0,0.7,-1.0,
  0.9,0.3,1.1,1.5,1.3,-0.6,1.5,0.7,1.7,-1.5,1.9,0,2.1,1.1,2.3,-0.9,2.5,0.5,2.7,1.8,2.9,-0.3,3.1,0.9,3.3,-1.2,3.5,0.3,
  3.8,1.3,-3.8,0.2,-2.8,-0.3,-2.0,0,-1.0,-0.2,0,0,0.2,0.8,0.6,-0.5,1.0,0.4,1.4,0.2,-0.4,-0.1,-1.6,-0.7,-0.8,0.6,
  1.8,0.9,2.4,0,-5.0,-0.6,-2.2,-2.5,0.8,-2.2,-4.3,0.7,
  -3.3,-1.2,-3.0,0.1,-2.8,-0.8,-2.6,0.4,-2.4,-1.3,-2.2,-0.4,-2.0,0.6,-1.8,-0.6,-1.6,-1.6,-1.4,0.1,-1.2,-0.9,-1.0,0.5,
  -0.8,-0.4,-0.6,-1.2,-0.4,0.3,-0.2,-0.5,0.0,0.8,0.2,-0.4,0.4,0.2,0.6,-1.3,0.8,0.6,1.0,-0.3,1.2,0.9,1.4,-0.8,1.6,0.3,
  1.8,-0.3,2.0,0.6,2.2,-0.6,2.4,1.0,2.6,0.1,2.8,-0.8,3.0,0.5,3.3,1.5,3.6,0.6,4.0,1.2,4.4,0.8,-0.5,-2.0,0.3,-1.1,
  -1.9,-2.0,1.3,-1.8,0.0,-0.9,-0.9,0.2,-2.6,-2.2,-3.7,-0.7];
const passerRating = [0.08,1.44,0.5,0.9,0.5,3.1,0.5,2.88,0.8,3.0,1.0,4.8,2.08,1.62,3.08,2.23,3.28,3.13,5.08,1.76,6.33,1.9,
  8.33,0.54,9.08,0.61,9.58,0.61,10.25,1.4,9.4,2.34,8.33,2.05,7.38,3.53,6.1,3.4,0.08,4.21,0.3,8.0,0.3,7.8,0.3,6.7,
  0.28,10.97,0.9,10.9,1.1,10.5,0.8,9.5,1.0,8.0,1.3,6.3,1.5,9.7,1.8,7.5,2.0,5.8,2.2,9.0,2.5,10.2,2.7,7.2,3.0,5.5,
  3.2,8.8,3.4,10.8,3.6,6.5,3.8,4.4,4.0,9.5,4.2,7.8,4.5,5.3,4.7,10.3,5.0,8.4,5.2,6.1,5.5,9.9,5.8,4.7,6.0,7.5,6.2,10.5,
  6.5,8.1,6.7,5.8,7.0,9.3,7.3,6.9,7.5,10.8,7.8,8.5,8.0,4.9,8.2,7.2,8.5,9.7,8.7,6.0,9.0,8.8,9.2,5.4,9.4,10.4,9.6,7.6,
  9.8,9.2,10.0,5.8,10.2,8.1,10.4,10.1,10.6,7.0,10.8,9.5,11.0,10.6,11.2,8.7,11.3,10.9,10.9,11.1,10.5,10.9,10.7,10.5,
  11.1,10.2,11.3,9.8,10.3,10.6,10.0,10.8,9.7,10.5,11.0,11.2,11.2,11.0,9.5,9.0,9.9,8.6,10.6,9.0,11.1,6.9,10.9,4.2,
  11.1,7.0,10.2,5.1,3.9,4.0,1.5,3.0,6.5,3.7,2.6,2.9,5.0,1.7,11.3,6.2,10.7,4.8,
  9.2,9.8,9.4,9.5,9.6,10.8,9.8,10.2,10.0,9.6,10.1,11.0,10.3,9.4,10.4,10.8,10.5,9.8,10.6,10.3,10.7,11.0,10.8,10.0,
  10.9,10.7,11.0,9.2,11.0,10.0,11.1,10.8,11.2,9.5,11.2,10.4,11.3,11.1,11.3,10.4,10.8,8.4,10.5,8.2,10.2,9.0,9.8,8.0,
  9.3,8.6,9.0,9.7,8.8,10.6,8.6,8.0,8.0,10.4,7.6,9.3,7.2,10.0,6.8,10.9,6.4,9.2,5.9,10.9,5.3,10.5,4.9,9.1,4.3,10.7,
  3.7,9.8,2.9,10.4,2.3,10.8,1.8,9.2,1.2,9.6,0.6,10.2,0.7,9.0,8.9,7.0,7.9,6.4,6.9,6.2,5.6,5.8,4.4,7.4,3.3,6.0,9.6,5.0,
  10.4,4.3];
const paddedOnNet = [6.83,16.0,15.2,17.5,11.8,16.8,10.8,15.2,9,13.5,12.5,15,3.07,1.8,3.6,6.8,4.46,-1.3,4.5,-1.6,6.0,0.4,
  6.2,-1.6,7.43,-2.5,8.5,-2.7,9.75,-3.0,12,-1.7,14.5,-0.8,15.5,0.6,16.6,0.5,5,3,5.5,8,6,5,6.5,11,7,2,7.5,7,8,9.5,8,4,
  8.5,12,9,6,9,1,9.5,8.5,10,3.5,10,11,10.5,6.5,10.5,0,11,9,11,4.5,11.5,13,11.5,7,12,2,12,10.5,12.5,5.5,12.5,8,13,12,
  13,3,13.5,6.5,13.5,10,14,1,14,8.5,14.5,5,15,11.5,15,7,15.5,3,16,9,16,5.5,16.5,13.5,17,7.5,17.5,2.5,18,10,18.5,6,
  19,4,8.5,7,9.5,4.5,10,8,10.5,10,11,6,11.5,3.5,12,7.5,9.2,10.3,10.8,12.5,7.2,8.5,6.5,3.5,13.8,14,12.2,13.5,9.7,13,
  5.8,10,4.7,5.5,7.8,1.5,16.2,1.0,15.5,12.5,18.5,8.5,19.5,6.5,
  6,7,6.5,9,7,5.5,7.5,10,7.5,3.5,8,6.5,8,11,8.5,5,9,9,9,3,9.5,6.5,9.5,11.5,10,5.5,10,9.5,10.5,7.5,10.5,3,11,10.5,
  11,7.5,11.5,5,11.5,9,12,6,12,12,12.5,9.5,12.5,3.5,13,7,13,10.5,13.5,4.5,14,6,14,11,14.5,8,15,4,15,9.5,15.5,6.5,
  16,11,16.5,3.5,17,9.5,17.5,5,6,12.5,7,13,8,1,9.5,1.5,11,1.5,12.5,1,14,13,5.5,1.5,4,9];
const efgPts = [-5.63,1.33,-5.2,0.5,-3.19,4.27,-2.0,4.0,13.8,5.2,15.26,3.67,12.6,-0.2,11.5,1.2,9.3,3.5,9.0,4.0,-0.75,-2.0,
  5.0,-1.2,6.95,-1.87,9.25,-1.53,4.55,5.87,7.04,5.47,7.8,5.0,-2.5,0.5,-2.0,1.5,-1.5,0.2,-1.2,2.2,-1.0,1.0,-0.7,2.8,
  -0.5,0.4,-0.3,1.7,0,3.2,0,1.0,0.3,2.3,0.5,-0.5,0.7,1.4,1.0,3.5,1.0,0.6,1.3,2.0,1.5,1.2,1.7,3.8,1.9,0.1,2.0,2.6,
  2.2,1.5,2.4,3.0,2.5,0.7,2.7,2.0,2.9,1.1,3.0,3.6,3.2,0.3,3.4,2.4,3.6,1.6,3.8,4.5,4.0,0.9,4.2,2.9,4.4,1.8,4.6,3.3,
  4.8,0.5,5.0,2.2,5.3,3.9,5.5,1.4,5.8,2.7,6.0,0.8,6.3,3.4,6.6,1.9,7.0,4.2,7.2,1.2,7.5,2.5,7.8,3.6,8.0,0.9,8.5,2.0,
  9.0,2.8,9.5,1.5,10.0,3.5,10.5,2.2,11.0,0.8,2.0,4.2,3.0,-0.5,1.5,-1.0,-1.5,3.3,5.8,4.8,4.0,-1.0,
  -2.2,1.0,-1.8,2.0,-1.3,0.7,-0.9,1.6,-0.6,0.9,-0.2,2.4,0.2,0.8,0.4,1.9,0.6,1.1,0.8,2.6,1.1,1.6,1.2,0.2,1.4,2.8,
  1.6,1.6,1.8,2.3,2.1,0.8,2.3,1.9,2.6,2.6,2.8,1.4,3.1,2.1,3.3,1.2,3.5,2.9,3.7,0.8,3.9,1.8,4.1,2.5,4.3,1.2,4.5,2.1,
  4.7,1.5,4.9,2.8,5.2,1.7,5.4,0.4,5.7,2.0,6.1,1.6,6.4,2.4,6.8,1.3,7.1,2.8,7.6,1.8,8.2,2.6,8.8,1.2,9.3,2.2,10.2,1.6,
  2.4,-0.6,4.4,-0.3,0.0,-1.1,6.5,-0.6];
const onOffSwing = [-8.13,0.28,-7.74,8.6,-5.8,11.2,-3.29,16.4,0.5,14.7,-0.5,14.8,1.74,18.2,3.8,16.3,6.3,15.2,10.3,16.4,
  12.1,11.2,14.3,4.4,13.0,-3.1,11.6,0.65,11.55,-10.1,10.8,-5.6,-4.5,-8.6,-5.2,-6.3,-0.97,-6.3,1.42,-6.5,3,-6.5,
  5.3,-4.4,-2.5,-4.5,-3.3,-3.6,-6,4,-5.5,9,-5,1,-4.5,6,-4,12,-3.5,3,-3,8,-2.5,-1,-2,5.5,-2,13,-1.5,2,-1,9.5,-1,-2.5,
  -0.5,6.5,0,11.5,0,3,0.5,-0.5,0.5,8,1,5,1,13.5,1.5,1.5,1.5,10,2,6.5,2,-2,2.5,12,2.5,3.5,3,8.5,3,0,3.5,5.5,3.5,14,
  4,10.5,4,2,4.5,7,4.5,-3,5,12.5,5,4,5.5,9,6,1,6,6,6.5,11,7,3,7,8,7.5,13,8,5,8,-1,8.5,10,9,7,9,2,9.5,12,10,4.5,
  10.5,9,11,6,-3.5,10.5,-1.5,7,0.5,4.5,2.5,9,4.5,4.5,6.5,7,-0.2,15,5.8,14.5,
  -5,6.5,-4.5,3,-4,8.5,-3.5,5.5,-3,11,-3,1.5,-2.5,7.5,-2.5,3.5,-2,10,-1.5,4.5,-1.5,12,-1,7,-1,0.5,-0.5,9.5,-0.5,3.5,
  0,6.5,0,13.5,0.5,10.5,0.5,1.5,1,7.5,1,3,1.5,12,1.5,5,2,8.5,2,1,2.5,6,2.5,14.5,3,10,3,4,3.5,7.5,3.5,1.5,4,12.5,
  4,5.5,4.5,9.5,5,2,5,7,5.5,11,5.5,4.5,6,8.5,6.5,3,6.5,12.5,7,6,7.5,9.5,8,2.5,8,11.5,8.5,6.5,9,9.5,9.5,4,10,7.5,
  10.5,10.5];

const panelPoints = [dunkRate, rimRate, astUsg, orebPts, unassisted2p, unassisted, moreyball, offensiveLoad,
  rimAst, nonRimRim, stopPct, boxCreation, stopEst, ftPts, tovPts, rimPts,
  passerRating, paddedOnNet, efgPts, onOffSwing];

// ---- layout ----
const colLeft = [39, 226, 413, 599];
const rowTop = [70, 220, 371, 522, 672];
const panelW = 165, panelH = 114;

const svg = d3.select('#chart');
svg.append('rect').attr('width', 768).attr('height', 819).attr('fill', '#fdf8ee');

// text helper, squeezed horizontally to mimic the condensed face of the reference
function label(g, x, y, str, size, fill, anchor='middle', sx=0.95){
    return g.append('text')
        .attr('transform', `translate(${x},${y}) scale(${sx},1)`)
        .attr('text-anchor', anchor)
        .attr('font-size', size)
        .attr('fill', fill)
        .text(str);
}

const fmt = (v, d) => {
    let s = v.toFixed(d);
    return s === '-0' ? '0' : s;
};

// half width of the confidence band along x (hyperbola through the three read widths)
function bandWidth(i){
    const [x0, , x1] = fitEnds[i];
    const [h0, h1, a] = bandHalf[i];
    const p0 = Math.sqrt(Math.max(h0*h0 - a*a, 0)),
          p1 = Math.sqrt(Math.max(h1*h1 - a*a, 1e-12));
    const r = p0 / p1;
    const m = (x0 + r*x1) / (1 + r);
    const b = p1 / (x1 - m);
    return x => Math.sqrt(a*a + b*b*(x - m)*(x - m));
}

titles.forEach((title, i) => {
    const left = colLeft[i % 4], top = rowTop[Math.floor(i / 4)];
    const x = d3.scaleLinear().domain(xDomains[i]).range([left, left + panelW]);
    const y = d3.scaleLinear().domain(yDomains[i]).range([top + panelH, top]);
    const g = svg.append('g').attr('class', 'panel');
    const col = panelColors[i];

    // grid
    g.selectAll('line.gx').data(xTicks[i]).join('line')
        .attr('x1', d => x(d)).attr('x2', d => x(d))
        .attr('y1', top).attr('y2', top + panelH)
        .attr('stroke', '#e9e6ea').attr('stroke-width', 0.9);
    g.selectAll('line.gy').data(yTicks[i]).join('line')
        .attr('y1', d => y(d)).attr('y2', d => y(d))
        .attr('x1', left).attr('x2', left + panelW)
        .attr('stroke', '#e9e6ea').attr('stroke-width', 0.9);

    // tick labels
    xTicks[i].forEach(t => label(g, x(t), top + panelH + 10.5, fmt(t, tickDigits[i]), 7, '#8a8a8a', 'middle', 0.9));
    yTicks[i].forEach(t => label(g, left - 3, y(t) + 2.4, fmt(t, tickDigits[i]), 7, '#8a8a8a', 'end', 0.9));

    // points
    const pts = d3.range(0, panelPoints[i].length, 2).map(k => [panelPoints[i][k], panelPoints[i][k+1]]);
    g.selectAll('circle').data(pts).join('circle')
        .attr('cx', d => x(d[0])).attr('cy', d => y(d[1]))
        .attr('r', 2.1)
        .attr('fill', col).attr('fill-opacity', 0.4)
        .attr('stroke', col).attr('stroke-opacity', 0.65).attr('stroke-width', 0.6);

    // smooth: band + line
    const [fx0, fy0, fx1, fy1] = fitEnds[i];
    const slope = (fy1 - fy0) / (fx1 - fx0);
    const hw = bandWidth(i);
    const xs = d3.range(41).map(k => fx0 + (fx1 - fx0) * k / 40);
    const fitY = v => fy0 + slope * (v - fx0);
    g.append('path')
        .attr('d', d3.area().x(v => x(v)).y0(v => y(fitY(v) - hw(v))).y1(v => y(fitY(v) + hw(v)))(xs))
        .attr('fill', '#999999').attr('fill-opacity', 0.4);
    g.append('path')
        .attr('d', d3.line().x(v => x(v)).y(v => y(fitY(v)))(xs))
        .attr('fill', 'none').attr('stroke', col).attr('stroke-width', 1);

    // strip title and R²
    const cx = left + panelW / 2;
    label(g, cx, top - 3.5, title, 9.6, '#2b2b2b');
    const r2 = g.append('text')
        .attr('transform', `translate(${cx},${top + 8.5}) scale(0.95,1)`)
        .attr('text-anchor', 'middle').attr('font-size', 8.8).attr('fill', '#1a1a1a');
    r2.append('tspan').attr('font-style', 'italic').text('R');
    r2.append('tspan').attr('font-size', 5.5).attr('dy', -3.5).text('2');
    r2.append('tspan').attr('dy', 3.5).text(' ' + r2Labels[i]);
});

// titles
label(svg, 384, 24, 'Summer League Advanced Stats vs. Rookie Season', 22, '#111111', 'middle', 0.9);
label(svg, 384, 38, 'Min 50 SL minutes & 250 rookie minutes | SL 2017-2025 (no 2020)', 10.5, '#b0acaa', 'middle', 0.9);
label(svg, 401, 810, 'First Summer League', 13.5, '#111111', 'middle', 1);
svg.append('text')
    .attr('transform', 'translate(17,428) rotate(-90)')
    .attr('text-anchor', 'middle').attr('font-size', 13.5).attr('fill', '#111111')
    .text('Rookie Season');
</script>
</body>
</html>
